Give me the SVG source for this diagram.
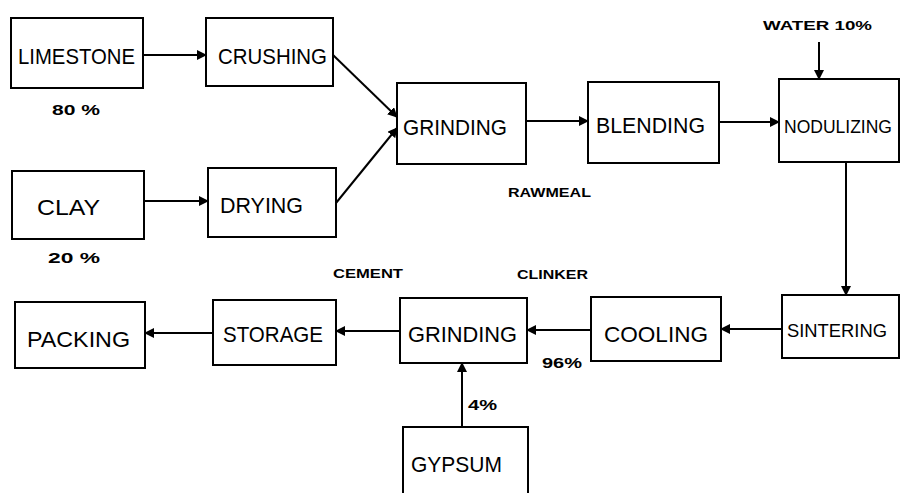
<svg xmlns="http://www.w3.org/2000/svg" width="902" height="493" viewBox="0 0 902 493">
<style>
.box{fill:#fff;stroke:#000;stroke-width:2}
.lbl{font-family:"Liberation Sans",Arial,sans-serif;font-size:22px;fill:#000}
.sm{font-family:"Liberation Sans",Arial,sans-serif;font-size:15px;fill:#000;font-weight:bold}
.xs{font-family:"Liberation Sans",Arial,sans-serif;font-size:13px;fill:#000;font-weight:bold}
.con{stroke:#000;stroke-width:2;fill:none;marker-end:url(#ah)}
</style>
<defs>
<marker id="ah" viewBox="0 0 10 10" refX="9" refY="5" markerWidth="5" markerHeight="5" orient="auto" markerUnits="strokeWidth">
<path d="M0,0 L10,5 L0,10 z" fill="#000"/>
</marker>
</defs>
<rect width="902" height="493" fill="#fff"/>
<g id="limestone"><rect class="box" x="11" y="18" width="132" height="70"/><text class="lbl" x="18" y="64" textLength="117" lengthAdjust="spacingAndGlyphs">LIMESTONE</text></g>
<g id="crushing"><rect class="box" x="206" y="18" width="127" height="68"/><text class="lbl" x="218" y="64" textLength="109" lengthAdjust="spacingAndGlyphs">CRUSHING</text></g>
<g id="clay"><rect class="box" x="12" y="171" width="132" height="68"/><text class="lbl" x="37" y="215" textLength="63" lengthAdjust="spacingAndGlyphs">CLAY</text></g>
<g id="drying"><rect class="box" x="208" y="168" width="128" height="69"/><text class="lbl" x="220" y="213" textLength="83" lengthAdjust="spacingAndGlyphs">DRYING</text></g>
<g id="grinding1"><rect class="box" x="397" y="83" width="129" height="81"/><text class="lbl" x="403" y="135" textLength="104" lengthAdjust="spacingAndGlyphs">GRINDING</text></g>
<g id="blending"><rect class="box" x="588" y="82" width="131" height="81"/><text class="lbl" x="596" y="133" textLength="109" lengthAdjust="spacingAndGlyphs">BLENDING</text></g>
<g id="nodulizing"><rect class="box" x="779" y="79" width="120" height="83"/><text class="lbl" x="784" y="133" style="font-size:17.5px" textLength="108" lengthAdjust="spacingAndGlyphs">NODULIZING</text></g>
<g id="sintering"><rect class="box" x="782" y="295" width="117" height="63"/><text class="lbl" x="787" y="337" style="font-size:18.5px" textLength="100" lengthAdjust="spacingAndGlyphs">SINTERING</text></g>
<g id="cooling"><rect class="box" x="591" y="297" width="130" height="64"/><text class="lbl" x="604" y="342" textLength="104" lengthAdjust="spacingAndGlyphs">COOLING</text></g>
<g id="grinding2"><rect class="box" x="400" y="298" width="127" height="65"/><text class="lbl" x="408" y="342" textLength="109" lengthAdjust="spacingAndGlyphs">GRINDING</text></g>
<g id="storage"><rect class="box" x="213" y="300" width="123" height="65"/><text class="lbl" x="223" y="342" textLength="100" lengthAdjust="spacingAndGlyphs">STORAGE</text></g>
<g id="packing"><rect class="box" x="15" y="302" width="130" height="66"/><text class="lbl" x="27" y="347" textLength="103" lengthAdjust="spacingAndGlyphs">PACKING</text></g>
<g id="gypsum"><rect class="box" x="403" y="427" width="125" height="80"/><text class="lbl" x="411" y="472" textLength="91" lengthAdjust="spacingAndGlyphs">GYPSUM</text></g>
<g id="labels">
<text class="sm" x="52" y="115" textLength="48" lengthAdjust="spacingAndGlyphs">80 %</text>
<text class="sm" x="48" y="263" textLength="52" lengthAdjust="spacingAndGlyphs">20 %</text>
<text class="xs" x="763" y="30" textLength="109" lengthAdjust="spacingAndGlyphs">WATER 10%</text>
<text class="xs" x="508" y="197" textLength="83" lengthAdjust="spacingAndGlyphs">RAWMEAL</text>
<text class="xs" x="333" y="278" textLength="70" lengthAdjust="spacingAndGlyphs">CEMENT</text>
<text class="xs" x="517" y="279" textLength="71" lengthAdjust="spacingAndGlyphs">CLINKER</text>
<text class="sm" x="542" y="368" textLength="40" lengthAdjust="spacingAndGlyphs">96%</text>
<text class="sm" x="468" y="410" textLength="29" lengthAdjust="spacingAndGlyphs">4%</text>
</g>
<g id="connectors">
<line class="con" x1="143" y1="55" x2="206" y2="55"/>
<line class="con" x1="144" y1="201" x2="208" y2="201"/>
<line class="con" x1="333" y1="55" x2="397" y2="117"/>
<line class="con" x1="336" y1="203" x2="397" y2="128"/>
<line class="con" x1="526" y1="121" x2="588" y2="121"/>
<line class="con" x1="719" y1="122" x2="779" y2="122"/>
<line class="con" x1="819" y1="42" x2="819" y2="79"/>
<line class="con" x1="846" y1="162" x2="846" y2="295"/>
<line class="con" x1="782" y1="329" x2="721" y2="329"/>
<line class="con" x1="591" y1="330" x2="527" y2="330"/>
<line class="con" x1="400" y1="331" x2="336" y2="331"/>
<line class="con" x1="213" y1="333" x2="145" y2="333"/>
<line class="con" x1="462" y1="427" x2="462" y2="363"/>
</g>
</svg>
